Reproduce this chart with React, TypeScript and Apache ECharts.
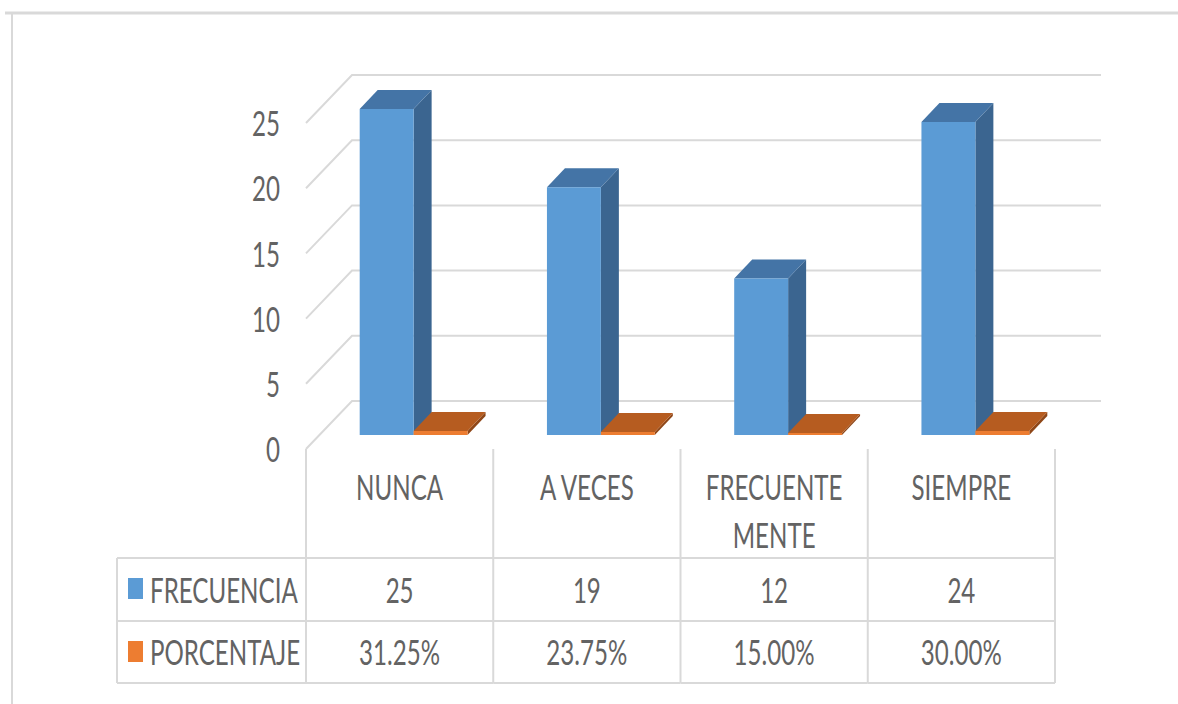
import React, { useEffect, useRef } from 'react';
import * as echarts from 'echarts';

// ---------- data ----------
const categories = ['NUNCA', 'A VECES', 'FRECUENTE\nMENTE', 'SIEMPRE'];
const frecuencia = [25, 19, 12, 24];
const porcentaje = [31.25, 23.75, 15.0, 30.0]; // percent
const yTicks = [0, 5, 10, 15, 20, 25];
const seriesNames = ['FRECUENCIA', 'PORCENTAJE'];

// ---------- style ----------
const FONT_FAMILY = 'Lato, "Open Sans", sans-serif';
const FONT_SIZE = 34;
const FONT_WEIGHT = 400;
const SX = 0.71;
const TEXT_COLOR = '#636363';
const LINE_COLOR = '#d9d9d9';
const BLUE = { front: '#5b9bd5', top: '#4474a6', side: '#3b6590', key: '#5b9bd5' };
const ORANGE = { front: '#ed7d31', top: '#b65c20', side: '#8f4718', key: '#ed7d31' };

const WALL_DX = 46;
const WALL_DY = 48;
const BAR_OX = 14;
const BAR_OY = 14;
const BAR_DX = 18;
const BAR_DY = 19;
const BAR_W_RATIO = 0.288;

const HEADER_TEXT_Y = 487;
const HEADER_LINE_GAP = 48;
const ROW_TOP = 558;
const ROW_MID = 621;
const ROW_BOTTOM = 683;
const TABLE_LEFT = 117;

const textEl = (text: string, x: number, y: number, align: string) => ({
  type: 'text',
  x,
  y,
  scaleX: SX,
  style: {
    text,
    x: 0,
    y: 0,
    align,
    textAlign: align,
    verticalAlign: 'middle',
    textVerticalAlign: 'middle',
    fontFamily: FONT_FAMILY,
    fontSize: FONT_SIZE,
    fontWeight: FONT_WEIGHT,
    fill: TEXT_COLOR,
  },
});

const lineEl = (x1: number, y1: number, x2: number, y2: number) => ({
  type: 'line',
  shape: { x1, y1, x2, y2 },
  style: { stroke: LINE_COLOR, lineWidth: 2 },
});

const makeBarRender = (colors: any, slot: number) => (params: any, api: any) => {
  const idx = api.value(0);
  const val = api.value(1);
  const base = api.coord([idx, 0]);
  const top = api.coord([idx, val]);
  const band = params.coordSys.width / categories.length;
  const w = band * BAR_W_RATIO;
  const cx = base[0] + BAR_OX;
  const L = slot === 0 ? cx - w : cx;
  const R = L + w;
  const yb = base[1] - BAR_OY;
  const yt = top[1] - BAR_OY;
  return {
    type: 'group',
    children: [
      {
        type: 'polygon',
        shape: { points: [[R, yt], [R + BAR_DX, yt - BAR_DY], [R + BAR_DX, yb - BAR_DY], [R, yb]] },
        style: { fill: colors.side },
      },
      {
        type: 'polygon',
        shape: { points: [[L, yt], [L + BAR_DX, yt - BAR_DY], [R + BAR_DX, yt - BAR_DY], [R, yt]] },
        style: { fill: colors.top },
      },
      {
        type: 'rect',
        shape: { x: L, y: yt, width: w, height: Math.max(yb - yt, 0.5) },
        style: { fill: colors.front },
      },
    ],
  };
};

export default function App() {
  const ref = useRef<HTMLDivElement>(null);

  useEffect(() => {
    if (!ref.current) return;
    const chart = echarts.init(ref.current, null, { renderer: 'svg' });

    const pctLabels = porcentaje.map((p) => p.toFixed(2) + '%');

    const option: any = {
      animation: false,
      backgroundColor: '#ffffff',
      grid: { left: 306, top: 123, width: 749, height: 326, containLabel: false },
      xAxis: { type: 'category', data: categories, show: false },
      yAxis: { type: 'value', min: 0, max: 25, interval: 5, show: false },
      series: [
        {
          type: 'custom',
          name: 'walls',
          clip: false,
          silent: true,
          data: yTicks.map((v) => [0, v]),
          encode: { x: 0, y: 1 },
          renderItem: (params: any, api: any) => {
            const v = api.value(1);
            const y = api.coord([0, v])[1];
            const cs = params.coordSys;
            const x0 = cs.x;
            const x1 = cs.x + cs.width;
            return {
              type: 'polyline',
              shape: { points: [[x0, y], [x0 + WALL_DX, y - WALL_DY], [x1 + WALL_DX, y - WALL_DY]] },
              style: { stroke: LINE_COLOR, lineWidth: 2, fill: 'none' },
            };
          },
        },
        {
          type: 'custom',
          name: 'yLabels',
          clip: false,
          silent: true,
          data: yTicks.map((v) => [0, v]),
          encode: { x: 0, y: 1 },
          renderItem: (params: any, api: any) => {
            const v = api.value(1);
            const y = api.coord([0, v])[1];
            const cs = params.coordSys;
            return textEl(String(v), cs.x - 26, y, 'right');
          },
        },
        {
          type: 'custom',
          name: seriesNames[0],
          clip: false,
          data: frecuencia.map((v, i) => [i, v]),
          encode: { x: 0, y: 1 },
          renderItem: makeBarRender(BLUE, 0),
        },
        {
          type: 'custom',
          name: seriesNames[1],
          clip: false,
          data: porcentaje.map((p, i) => [i, p / 100]),
          encode: { x: 0, y: 1 },
          renderItem: makeBarRender(ORANGE, 1),
        },
        {
          type: 'custom',
          name: 'table',
          clip: false,
          silent: true,
          data: categories.map((c, i) => [i, 0]),
          encode: { x: 0, y: 1 },
          renderItem: (params: any, api: any) => {
            const i = api.value(0);
            const cx = api.coord([i, 0])[0];
            const y0 = api.coord([i, 0])[1];
            const band = params.coordSys.width / categories.length;
            const left = cx - band / 2;
            const right = cx + band / 2;
            const children: any[] = [];
            children.push(lineEl(right, y0, right, ROW_BOTTOM));
            if (i === 0) children.push(lineEl(left, y0, left, ROW_BOTTOM));
            children.push(lineEl(left, ROW_TOP, right, ROW_TOP));
            children.push(lineEl(left, ROW_MID, right, ROW_MID));
            children.push(lineEl(left, ROW_BOTTOM, right, ROW_BOTTOM));
            categories[i].split('\n').forEach((line, k) => {
              children.push(textEl(line, cx, HEADER_TEXT_Y + k * HEADER_LINE_GAP, 'center'));
            });
            children.push(textEl(String(frecuencia[i]), cx, (ROW_TOP + ROW_MID) / 2, 'center'));
            children.push(textEl(pctLabels[i], cx, (ROW_MID + ROW_BOTTOM) / 2, 'center'));
            return { type: 'group', children };
          },
        },
      ],
      graphic: [
        // outer frame
        { type: 'line', shape: { x1: 5, y1: 13, x2: 1178, y2: 13 }, style: { stroke: LINE_COLOR, lineWidth: 3 } },
        { type: 'line', shape: { x1: 12, y1: 12, x2: 12, y2: 704 }, style: { stroke: LINE_COLOR, lineWidth: 2 } },
        // legend column of table
        lineEl(TABLE_LEFT, ROW_TOP, 306, ROW_TOP),
        lineEl(TABLE_LEFT, ROW_MID, 306, ROW_MID),
        lineEl(TABLE_LEFT, ROW_BOTTOM, 306, ROW_BOTTOM),
        lineEl(TABLE_LEFT, ROW_TOP, TABLE_LEFT, ROW_BOTTOM),
        { type: 'rect', shape: { x: 128, y: 578, width: 15, height: 21 }, style: { fill: BLUE.key } },
        { type: 'rect', shape: { x: 128, y: 641, width: 15, height: 21 }, style: { fill: ORANGE.key } },
        textEl(seriesNames[0], 150, (ROW_TOP + ROW_MID) / 2, 'left'),
        textEl(seriesNames[1], 150, (ROW_MID + ROW_BOTTOM) / 2, 'left'),
      ],
    };

    chart.setOption(option);
    return () => chart.dispose();
  }, []);

  return (
    <div
      ref={ref}
      style={{ position: 'absolute', left: 0, top: 0, width: 1178, height: 704, background: '#ffffff' }}
    />
  );
}
